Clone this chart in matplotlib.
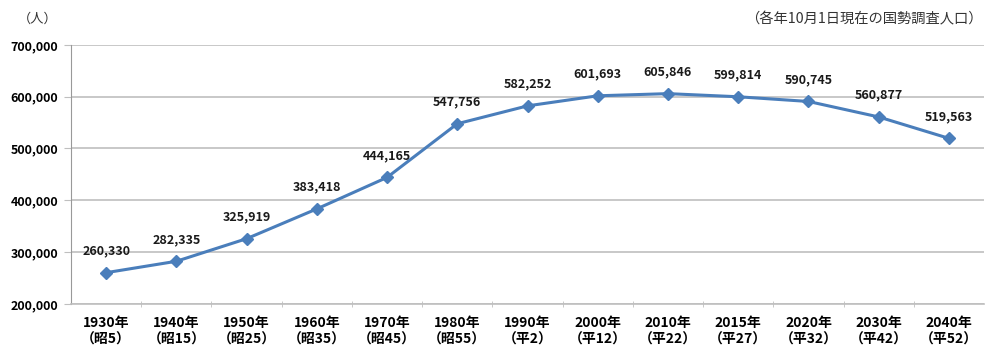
import matplotlib.pyplot as plt
from matplotlib.ticker import FuncFormatter

plt.rcParams['font.family'] = ['Noto Sans CJK JP', 'DejaVu Sans']

# data
years = ["1930年", "1940年", "1950年", "1960年", "1970年", "1980年", "1990年",
         "2000年", "2010年", "2015年", "2020年", "2030年", "2040年"]
eras = ["（昭5）", "（昭15）", "（昭25）", "（昭35）", "（昭45）", "（昭55）", "（平2）",
        "（平12）", "（平22）", "（平27）", "（平32）", "（平42）", "（平52）"]
population = [260330, 282335, 325919, 383418, 444165, 547756, 582252,
              601693, 605846, 599814, 590745, 560877, 519563]

LINE = "#4a7ebb"
GRID = "#bfbfbf"

fig = plt.figure(figsize=(9.86, 3.45), dpi=100)
ax = fig.add_axes([0.072, 0.119, 0.926, 0.751])

x = list(range(len(years)))
ax.plot(x, population, color=LINE, lw=2.2, marker="D", ms=6.5, zorder=3)

for xi, v in zip(x, population):
    ax.annotate(f"{v:,}", (xi, v), xytext=(0, 11), textcoords="offset points",
                ha="center", va="bottom", fontsize=9, fontweight="bold", color="#1a1a1a")

ax.set_xlim(-0.5, len(years) - 0.5)
ax.set_ylim(200000, 700000)
ax.set_yticks(range(200000, 700001, 100000))
ax.yaxis.set_major_formatter(FuncFormatter(lambda v, p: f"{int(v):,}"))
ax.grid(axis="y", color=GRID, lw=1.2)
ax.set_axisbelow(True)

ax.set_xticks(x)
ax.set_xticklabels([f"{a}\n{b}" for a, b in zip(years, eras)], fontsize=10, fontweight="bold",
                   linespacing=1.2)
ax.set_xticks([i + 0.5 for i in x[:-1]], minor=True)
ax.tick_params(axis="x", which="major", length=0, pad=9)
ax.tick_params(axis="x", which="minor", length=4, color=GRID, direction="inout")
ax.tick_params(axis="y", length=5, color=GRID, labelsize=9, pad=4)
for lab in ax.get_yticklabels():
    lab.set_fontweight("bold")

for s in ["top", "right"]:
    ax.spines[s].set_visible(False)
ax.spines["left"].set_color("#999999")
ax.spines["bottom"].set_color(GRID)
ax.spines["bottom"].set_linewidth(1.2)

fig.text(0.018, 0.945, "（人）", fontsize=9.5, color="#333333", va="center")
fig.text(0.997, 0.945, "（各年10月1日現在の国勢調査人口）", fontsize=10.3, color="#333333",
         va="center", ha="right")

fig.savefig("out.png", dpi=100)
